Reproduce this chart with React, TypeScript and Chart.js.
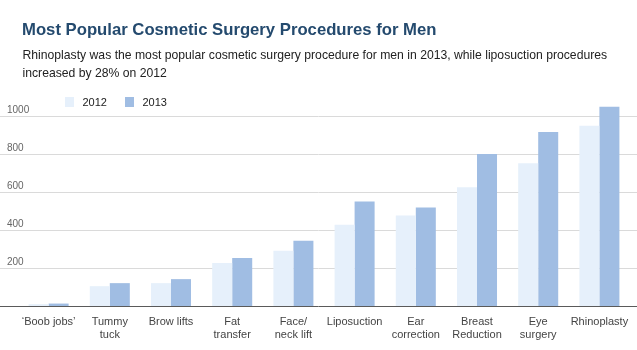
import React, { useEffect, useRef } from "react";
import { Chart, registerables } from "chart.js";

Chart.register(...registerables);

const TITLE = "Most Popular Cosmetic Surgery Procedures for Men";
const SUBTITLE_LINES = [
  "Rhinoplasty was the most popular cosmetic surgery procedure for men in 2013, while liposuction procedures",
  "increased by 28% on 2012",
];
const CATEGORIES: (string | string[])[] = [
  "\u2018Boob jobs\u2019",
  ["Tummy", "tuck"],
  "Brow lifts",
  ["Fat", "transfer"],
  ["Face/", "neck lift"],
  "Liposuction",
  ["Ear", "correction"],
  ["Breast", "Reduction"],
  ["Eye", "surgery"],
  "Rhinoplasty",
];
const SERIES_LABELS = ["2012", "2013"];
const VALUES_2012 = [15, 109, 125, 231, 294, 431, 479, 627, 753, 949];
const VALUES_2013 = [18, 125, 146, 257, 347, 553, 521, 801, 917, 1049];
const Y_TICKS = [0, 200, 400, 600, 800, 1000];

const FONT = "'Liberation Sans', Arial, Helvetica, sans-serif";
const COLOR_2012 = "#e6f0fb";
const COLOR_2013 = "#a0bde3";

const chromePlugin = {
  id: "chrome",
  beforeDatasetsDraw(chart: any) {
    const { ctx, scales } = chart;
    const y = scales.y;
    ctx.save();
    ctx.strokeStyle = "#dadada";
    ctx.lineWidth = 1;
    ctx.fillStyle = "#666666";
    ctx.font = `10px ${FONT}`;
    ctx.textAlign = "left";
    ctx.textBaseline = "alphabetic";
    Y_TICKS.forEach((v) => {
      if (v === 0) return;
      const py = Math.floor(y.getPixelForValue(v)) + 0.5;
      ctx.beginPath();
      ctx.moveTo(0, py);
      ctx.lineTo(chart.width, py);
      ctx.stroke();
      ctx.fillText(String(v), 7, py - 4);
    });
    ctx.restore();
  },
  afterDatasetsDraw(chart: any) {
    const { ctx, scales } = chart;
    const y = scales.y;
    ctx.save();
    ctx.strokeStyle = "#5a5a5a";
    ctx.lineWidth = 1;
    const py = Math.floor(y.getPixelForValue(0)) - 0.5;
    ctx.beginPath();
    ctx.moveTo(0, py);
    ctx.lineTo(chart.width, py);
    ctx.stroke();

    // title & subtitle
    ctx.textAlign = "left";
    ctx.textBaseline = "alphabetic";
    ctx.fillStyle = "#244a6e";
    ctx.font = `bold 16.7px ${FONT}`;
    ctx.fillText(TITLE, 22, 35);
    ctx.fillStyle = "#222222";
    ctx.font = `12.2px ${FONT}`;
    SUBTITLE_LINES.forEach((line, i) => ctx.fillText(line, 22.5, 59 + i * 17.6));

    // legend
    ctx.font = `11px ${FONT}`;
    chart.data.datasets.forEach((ds: any, i: number) => {
      const bx = 65 + i * 60;
      ctx.fillStyle = ds.backgroundColor;
      ctx.fillRect(bx, 97, 9, 10);
      ctx.fillStyle = "#222222";
      ctx.fillText(ds.label, bx + 17.5, 106);
    });
    ctx.restore();
  },
};

export default function App() {
  const canvasRef = useRef<HTMLCanvasElement | null>(null);

  useEffect(() => {
    document.body.style.margin = "0";
    const canvas = canvasRef.current;
    if (!canvas) return;
    const chart = new Chart(canvas, {
      type: "bar",
      data: {
        labels: CATEGORIES as any,
        datasets: [
          {
            label: SERIES_LABELS[0],
            data: VALUES_2012,
            backgroundColor: COLOR_2012,
            borderWidth: 0,
            categoryPercentage: 0.654,
            barPercentage: 1,
          },
          {
            label: SERIES_LABELS[1],
            data: VALUES_2013,
            backgroundColor: COLOR_2013,
            borderWidth: 0,
            categoryPercentage: 0.654,
            barPercentage: 1,
          },
        ],
      },
      options: {
        responsive: false,
        animation: false,
        devicePixelRatio: 1,
        events: [],
        layout: { padding: { left: 18, right: 7, top: 97, bottom: 1 } },
        plugins: {
          legend: { display: false },
          title: { display: false },
          tooltip: { enabled: false },
        },
        scales: {
          x: {
            grid: { display: false, drawTicks: false },
            border: { display: false },
            ticks: {
              padding: 8,
              color: "#444444",
              font: { family: FONT, size: 11, lineHeight: 13 / 11 },
              maxRotation: 0,
              autoSkip: false,
            },
          },
          y: {
            display: false,
            min: 0,
            max: 1100,
            ticks: { stepSize: 200 },
          },
        },
      },
      plugins: [chromePlugin],
    });
    return () => chart.destroy();
  }, []);

  return (
    <div style={{ width: 637, height: 350, position: "relative" }}>
      <canvas ref={canvasRef} width={637} height={350} />
    </div>
  );
}
